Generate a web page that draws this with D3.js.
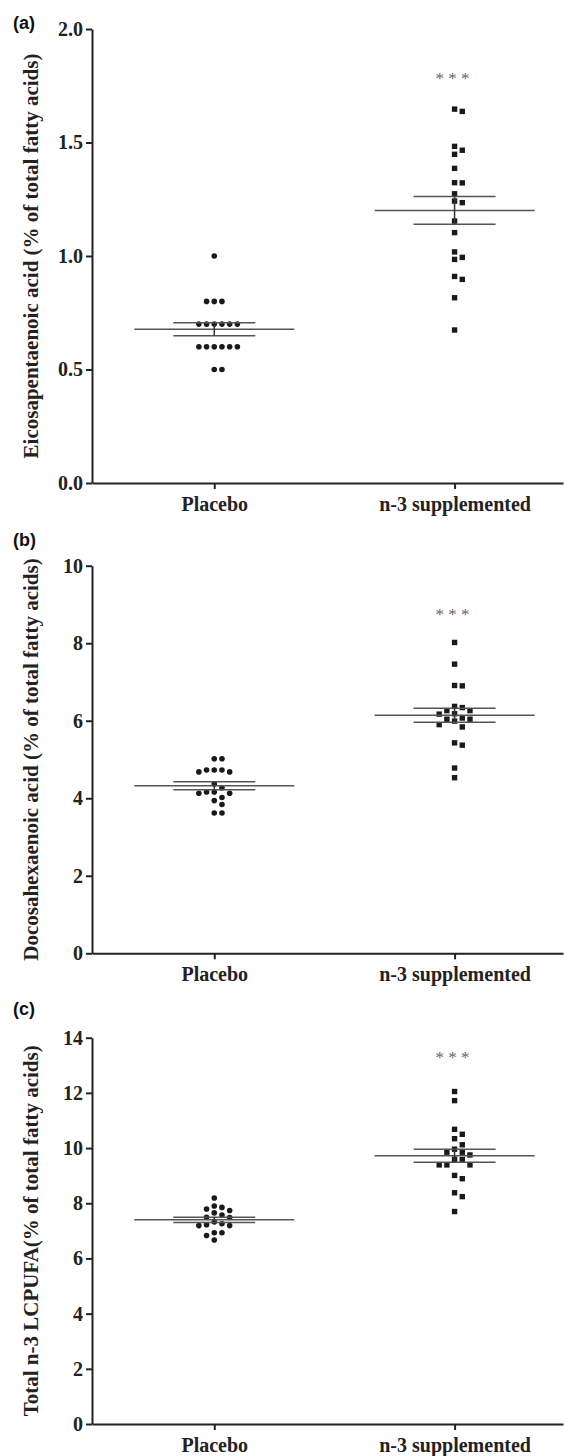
<!DOCTYPE html>
<html>
<head>
<meta charset="utf-8">
<script src="https://cdn.jsdelivr.net/npm/d3@7"></script>
<style>
  html, body { margin: 0; padding: 0; background: #fff; }
  svg { display: block; }
</style>
</head>
<body>
<script>
// ---------- data ----------
const categories = ["Placebo", "n-3 supplemented"];

const panelLabels = ["(a)", "(b)", "(c)"];
const yTitles = [
  "Eicosapentaenoic acid (% of total fatty acids)",
  "Docosahexaenoic acid (% of total fatty acids)",
  "Total n-3 LCPUFA(% of total fatty acids)"
];
const yMax = [2.0, 10, 14];
const yTicks = [
  [0.0, 0.5, 1.0, 1.5, 2.0],
  [0, 2, 4, 6, 8, 10],
  [0, 2, 4, 6, 8, 10, 12, 14]
];
const yTickFormat = [".1f", "d", "d"];
const sigLabel = "* * *";
const sigValue = [1.8, 8.85, 13.45];

// (a) Eicosapentaenoic acid
const epaPlacebo = [1.0, 0.8, 0.8, 0.8, 0.7, 0.7, 0.7, 0.7, 0.7, 0.7,
                    0.6, 0.6, 0.6, 0.6, 0.6, 0.6, 0.5, 0.5];
const epaN3 = [1.647, 1.637, 1.483, 1.466, 1.448, 1.386, 1.323, 1.322, 1.274, 1.242,
               1.235, 1.154, 1.103, 1.018, 0.994, 0.985, 0.910, 0.897, 0.816, 0.674];

// (b) Docosahexaenoic acid
const dhaPlacebo = [5.02, 5.02, 4.73, 4.73, 4.73, 4.68, 4.68, 4.37, 4.27,
                    4.16, 4.16, 4.13, 4.13, 4.02, 3.94, 3.84, 3.62, 3.62];
const dhaN3 = [8.02, 7.46, 6.91, 6.90, 6.37, 6.34, 6.26, 6.26, 6.18, 6.17,
               6.07, 6.04, 6.04, 5.99, 5.90, 5.84, 5.43, 5.37, 4.78, 4.53];

// (c) Total n-3 LCPUFA
const totPlacebo = [8.19, 7.90, 7.85, 7.79, 7.74, 7.65, 7.57, 7.49, 7.48,
                    7.32, 7.26, 7.22, 7.19, 7.19, 6.93, 6.93, 6.83, 6.67];
const totN3 = [12.05, 11.72, 10.68, 10.50, 10.34, 10.12, 9.96, 9.85, 9.85, 9.75,
               9.59, 9.58, 9.39, 9.39, 9.39, 9.01, 8.89, 8.38, 8.24, 7.70];

const panelSeries = [
  [epaPlacebo, epaN3],
  [dhaPlacebo, dhaN3],
  [totPlacebo, totN3]
];

// ---------- layout ----------
const W = 564, H = 1456;
const axisX = 92, rightX = 563;
const panelBox = [
  { top: 29,    bottom: 483 },
  { top: 565.7, bottom: 953.3 },
  { top: 1037.7, bottom: 1424 }
];
const labelBaseline = [29, 546, 1015];
const serif = "'Liberation Serif', 'Times New Roman', serif";
const sans = "'Liberation Sans', Arial, sans-serif";

const svg = d3.select("body").append("svg")
  .attr("width", W).attr("height", H)
  .attr("viewBox", `0 0 ${W} ${H}`);

const x = d3.scalePoint().domain(categories).range([axisX, rightX]).padding(0.48).align(0.53);

const step = 7.7, minDist = 6.6;

function dodge(values, y) {
  const placed = [];
  const ks = [0, 1, -1, 2, -2, 3, -3, 4, -4, 5, -5];
  values.forEach(v => {
    const py = y(v);
    for (const k of ks) {
      const ok = placed.every(p => {
        const dx = (p.k - k) * step, dy = p.py - py;
        return dx * dx + dy * dy >= minDist * minDist;
      });
      if (ok) { placed.push({ v, py, k }); break; }
    }
  });
  return placed;
}

panelBox.forEach((box, pi) => {
  const y = d3.scaleLinear().domain([0, yMax[pi]]).range([box.bottom, box.top]);
  const g = svg.append("g");

  // panel label
  g.append("text")
    .attr("x", 13).attr("y", labelBaseline[pi])
    .attr("font-family", sans).attr("font-weight", "bold").attr("font-size", 18)
    .attr("fill", "#111")
    .text(panelLabels[pi]);

  // y axis
  const ya = g.append("g")
    .attr("transform", `translate(${axisX},0)`)
    .call(d3.axisLeft(y).tickValues(yTicks[pi]).tickFormat(d3.format(yTickFormat[pi]))
      .tickSize(6).tickSizeOuter(0).tickPadding(3));
  ya.select(".domain").attr("stroke", "#222").attr("stroke-width", 2);
  ya.selectAll(".tick line").attr("stroke", "#222").attr("stroke-width", 2);
  ya.selectAll(".tick text")
    .attr("font-family", serif).attr("font-weight", "bold").attr("font-size", 20)
    .attr("fill", "#222");

  // x axis
  const xa = g.append("g")
    .attr("transform", `translate(0,${box.bottom})`)
    .call(d3.axisBottom(x).tickSize(6).tickSizeOuter(0).tickPadding(8));
  xa.select(".domain").attr("stroke", "#222").attr("stroke-width", 2);
  xa.selectAll(".tick line").attr("stroke", "#222").attr("stroke-width", 2);
  xa.selectAll(".tick text")
    .attr("font-family", serif).attr("font-weight", "bold").attr("font-size", 20)
    .attr("fill", "#222");

  // y title
  g.append("text")
    .attr("transform", `translate(38,${(box.top + box.bottom) / 2}) rotate(-90)`)
    .attr("text-anchor", "middle")
    .attr("font-family", serif).attr("font-weight", "bold").attr("font-size", 21)
    .attr("fill", "#222")
    .text(yTitles[pi]);

  // series
  panelSeries[pi].forEach((vals, ci) => {
    const cx = x(categories[ci]);
    const m = d3.mean(vals);
    const sem = d3.deviation(vals) / Math.sqrt(vals.length);

    const pts = dodge(vals, y);
    if (ci === 0) {
      g.append("g").selectAll("circle").data(pts).join("circle")
        .attr("cx", d => cx + d.k * step).attr("cy", d => d.py)
        .attr("r", 2.8).attr("fill", "#1a1a1a");
    } else {
      const s = 5.4;
      g.append("g").selectAll("rect").data(pts).join("rect")
        .attr("x", d => cx + d.k * step - s / 2).attr("y", d => d.py - s / 2)
        .attr("width", s).attr("height", s).attr("fill", "#1a1a1a");
    }

    // mean & SEM
    const lg = g.append("g").attr("stroke", "#555").attr("stroke-width", 1.5);
    lg.append("line").attr("x1", cx - 80).attr("x2", cx + 80)
      .attr("y1", y(m)).attr("y2", y(m));
    lg.append("line").attr("x1", cx - 41).attr("x2", cx + 41)
      .attr("y1", y(m + sem)).attr("y2", y(m + sem));
    lg.append("line").attr("x1", cx - 41).attr("x2", cx + 41)
      .attr("y1", y(m - sem)).attr("y2", y(m - sem));
    g.append("line").attr("x1", cx).attr("x2", cx)
      .attr("y1", y(m + sem)).attr("y2", y(m - sem))
      .attr("stroke", "#333").attr("stroke-width", 1.5);

    if (ci === 1) {
      g.append("text")
        .attr("x", cx - 2).attr("y", y(sigValue[pi]) + 10)
        .attr("text-anchor", "middle")
        .attr("font-family", serif).attr("font-size", 17)
        .attr("fill", "#666")
        .text(sigLabel);
    }
  });
});
</script>
</body>
</html>
